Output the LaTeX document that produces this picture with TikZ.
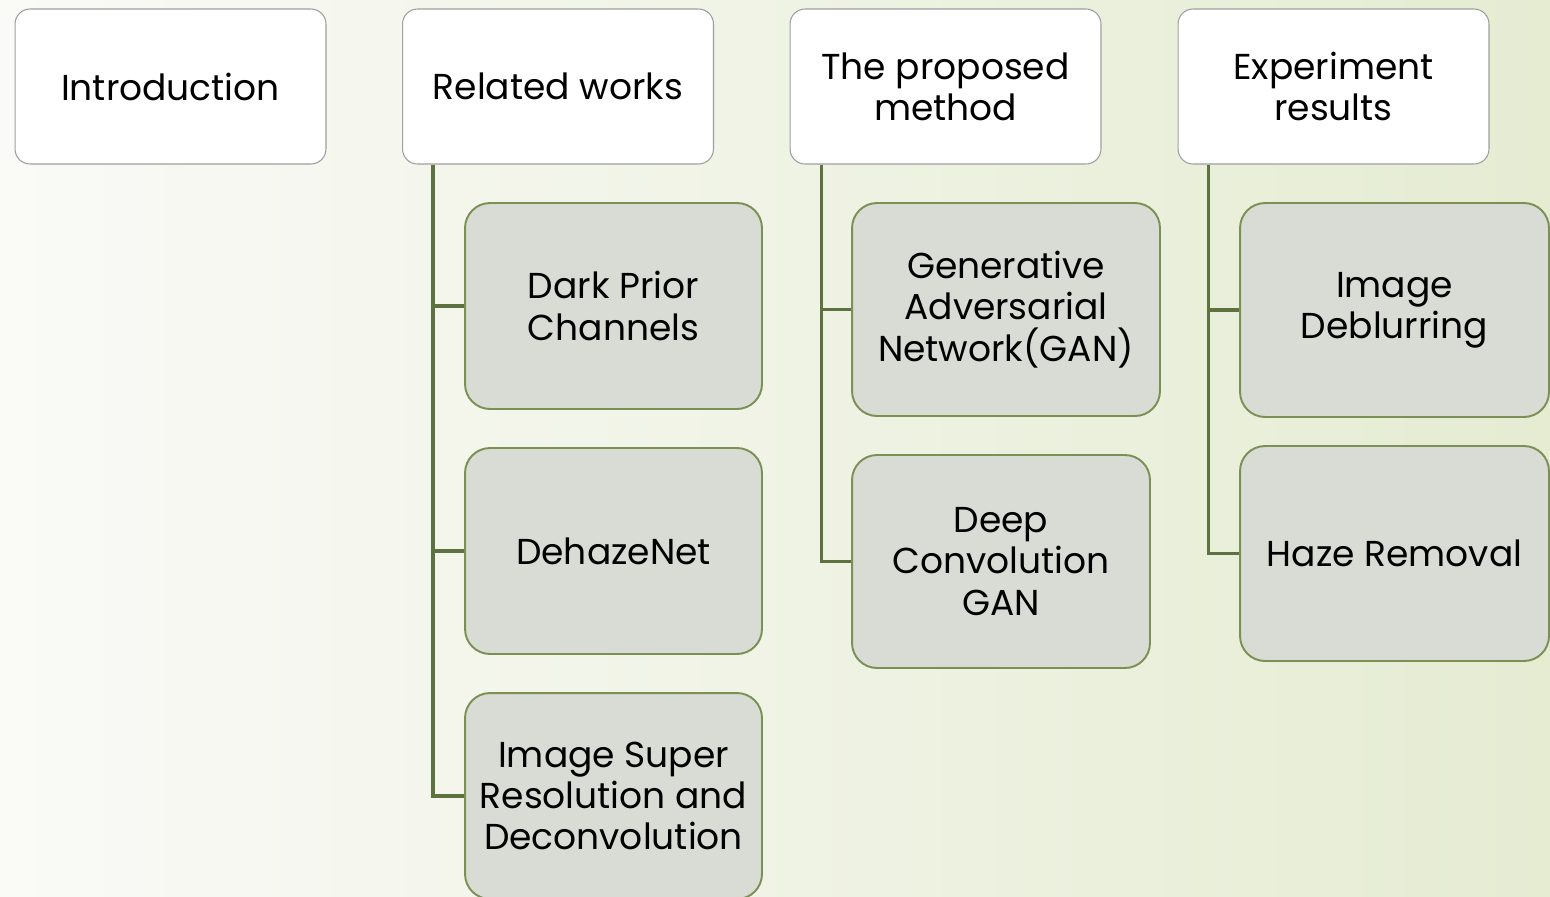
\documentclass[tikz,border=0pt]{standalone}
\usepackage{fontspec}
\setmainfont{Poppins}
\usepackage{xcolor}
\usetikzlibrary{positioning,calc}

\definecolor{branchgreen}{RGB}{94,114,64}
\definecolor{boxgreen}{RGB}{122,144,84}
\definecolor{boxfill}{RGB}{217,220,212}
\definecolor{bgleft}{RGB}{250,250,247}
\definecolor{bgright}{RGB}{229,236,210}

\begin{document}
\begin{tikzpicture}[x=0.02cm, y=-0.02cm,
    topic/.style={rectangle, rounded corners=0.3cm, draw=gray!75, fill=white, minimum width=6.22cm, minimum height=3.1cm, align=center, font=\fontsize{20.5}{23.5}\selectfont, line width=0.6pt},
    subtopic/.style={rectangle, rounded corners=0.5cm, draw=boxgreen, fill=boxfill, minimum width=5.94cm, minimum height=4.12cm, align=center, font=\fontsize{20.5}{23.5}\selectfont, line width=1.1pt},
    branch/.style={draw=branchgreen, line width=1.8pt}
]

% background
\useasboundingbox (0,0) rectangle (1550,896);
\fill[left color=bgleft, right color=bgright] (0,0) rectangle (1550,896);

% top row
\node[topic] (intro) at (170.5, 86.5) {Introduction};
\node[topic] (related) at (558, 86.5) {Related works};
\node[topic] (proposed) at (945.5, 86.5) {The proposed\\method};
\node[topic] (experiment) at (1333.5, 86.5) {Experiment\\results};

% related works
\node[subtopic] (darkprior) at (613.5, 306) {Dark Prior\\Channels};
\node[subtopic] (dehazenet) at (613.5, 551) {DehazeNet};
\node[subtopic] (superres) at (613.5, 796) {Image Super\\Resolution and\\Deconvolution};

% proposed method
\node[subtopic, minimum width=6.16cm, minimum height=4.26cm] (gan) at (1006, 309.5) {Generative\\Adversarial\\Network(GAN)};
\node[subtopic, minimum width=5.96cm, minimum height=4.26cm] (dcgan) at (1001, 561.5) {Deep\\Convolution\\GAN};

% experiment results
\node[subtopic, minimum width=6.18cm, minimum height=4.28cm] (deblur) at (1394.5, 310) {Image\\Deblurring};
\node[subtopic, minimum width=6.18cm, minimum height=4.3cm] (hazeremoval) at (1394.5, 553.5) {Haze Removal};

% branches
\draw[branch] ([xshift=0.62cm]related.south west) |- (darkprior.west);
\draw[branch] ([xshift=0.62cm]related.south west) |- (dehazenet.west);
\draw[branch] ([xshift=0.62cm]related.south west) |- (superres.west);
\draw[branch] ([xshift=0.64cm]proposed.south west) |- (gan.west);
\draw[branch] ([xshift=0.64cm]proposed.south west) |- (dcgan.west);
\draw[branch] ([xshift=0.62cm]experiment.south west) |- (deblur.west);
\draw[branch] ([xshift=0.62cm]experiment.south west) |- (hazeremoval.west);

\end{tikzpicture}
\end{document}
